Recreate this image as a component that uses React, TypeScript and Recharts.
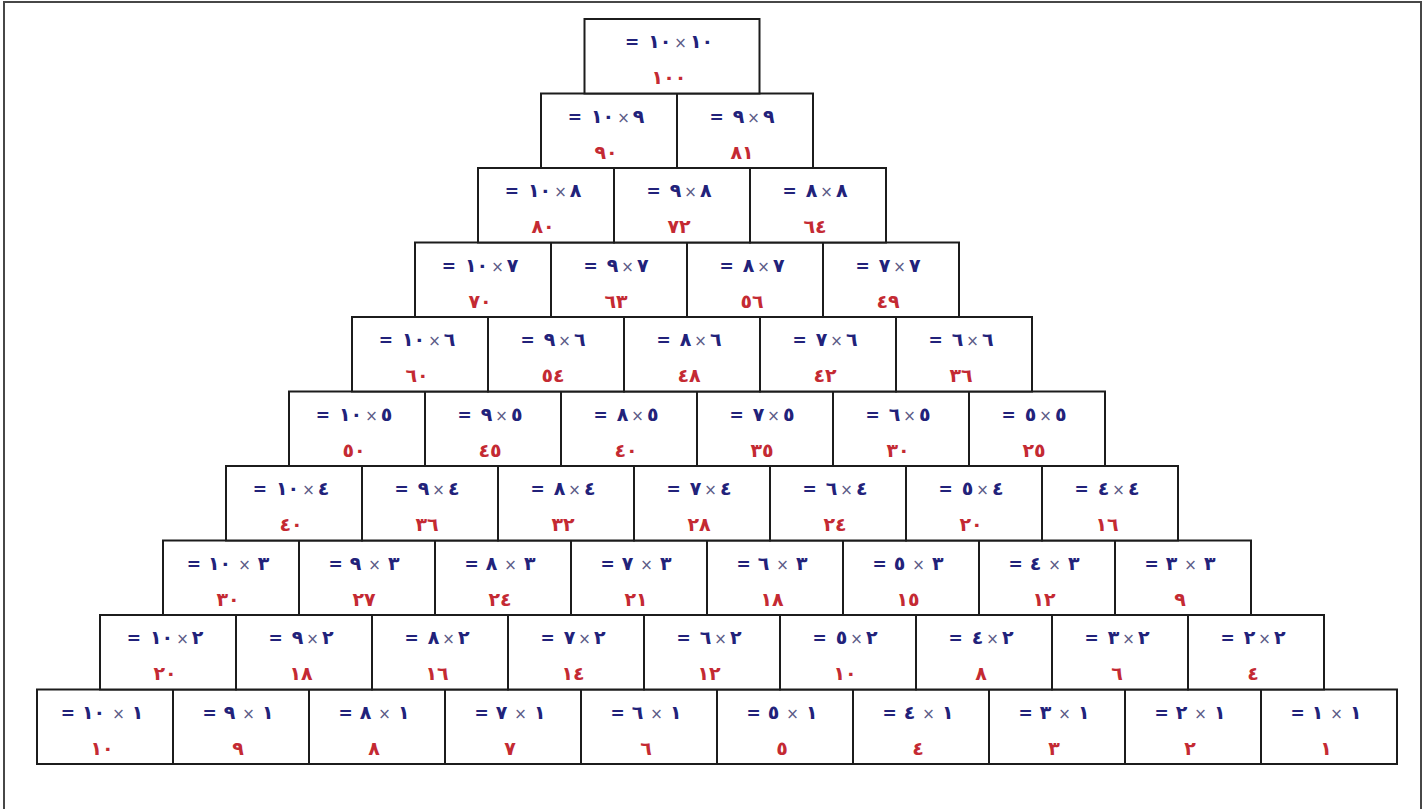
import * as React from "react";
import { ScatterChart, Scatter, XAxis, YAxis } from "recharts";

// multipliers across a row (left to right) and the row factor (bottom to top)
const multipliers = [10, 9, 8, 7, 6, 5, 4, 3, 2, 1];
const rowFactors = [1, 2, 3, 4, 5, 6, 7, 8, 9, 10];

// products as printed in the red line of each box, one list per row
const row1 = [10, 9, 8, 7, 6, 5, 4, 3, 2, 1];
const row2 = [20, 18, 16, 14, 12, 10, 8, 6, 4];
const row3 = [30, 27, 24, 21, 18, 15, 12, 9];
const row4 = [40, 36, 32, 28, 24, 20, 16];
const row5 = [50, 45, 40, 35, 30, 25];
const row6 = [60, 54, 48, 42, 36];
const row7 = [70, 63, 56, 49];
const row8 = [80, 72, 64];
const row9 = [90, 81];
const row10 = [100];
const productRows = [row1, row2, row3, row4, row5, row6, row7, row8, row9, row10];

// rows whose label is written with spaces around the ×
const wideRows = [1, 3];

const W = 1426;
const H = 809;
const MARGIN = { top: 19, right: 29, bottom: 45, left: 37 };
const COL_W = (W - MARGIN.left - MARGIN.right) / 10;
const ROW_H = (H - MARGIN.top - MARGIN.bottom) / 10;
const APEX_W = 175;
const DRIFT = -5 / COL_W; // the pyramid leans a little to the left going up

const AR = "٠١٢٣٤٥٦٧٨٩";
const ar = (n: number) =>
  String(n)
    .split("")
    .map((d) => AR[Number(d)])
    .join("");

const cells = rowFactors.flatMap((b, ri) =>
  productRows[ri].map((p, i) => {
    const a = multipliers[i];
    return {
      a,
      b,
      p,
      single: productRows[ri].length === 1,
      x: i + (b - 1) / 2 + DRIFT * (b - 1),
      y: b,
    };
  })
);

const BLUE = "#22227a";
const RED = "#c42a33";
const FONT = "'DejaVu Sans', sans-serif";
const LTR = { direction: "ltr", unicodeBidi: "bidi-override" } as any;

const Box = (props: any) => {
  const { cx, cy, payload } = props;
  const w = payload.single ? APEX_W : COL_W;
  const wide = wideRows.includes(payload.b);
  return (
    <g>
      <rect
        x={cx - w / 2}
        y={cy - ROW_H / 2}
        width={w}
        height={ROW_H}
        fill="#fff"
        stroke="#1c1c1c"
        strokeWidth={2}
      />
      <text
        x={cx - 3}
        y={cy - 8}
        textAnchor="middle"
        fontFamily={FONT}
        fontSize={19}
        fontWeight="bold"
        style={LTR}
      >
        <tspan fill={BLUE} fontSize={17}>=</tspan>
        <tspan fill={BLUE} dx={wide ? 7 : 9} letterSpacing={2}>
          {ar(payload.a)}
        </tspan>
        <tspan fill="#5a5a86" fontWeight="normal" fontSize={15} dx={wide ? 7 : 3}>
          ×
        </tspan>
        <tspan fill={BLUE} dx={wide ? 7 : 3}>
          {ar(payload.b)}
        </tspan>
      </text>
      <text
        x={cx - 3}
        y={cy + 28}
        textAnchor="middle"
        fontFamily={FONT}
        fontSize={19}
        fontWeight="bold"
        fill={RED}
        letterSpacing={4}
        style={LTR}
      >
        {ar(payload.p)}
      </text>
    </g>
  );
};

export default function App() {
  return (
    <div
      style={{
        position: "absolute",
        left: 0,
        top: 0,
        width: W,
        height: H,
        overflow: "hidden",
        background: "#fff",
      }}
    >
      <div
        style={{
          position: "absolute",
          left: 3,
          top: 1,
          width: 1415,
          height: 830,
          border: "2px solid #474747",
        }}
      />
      <ScatterChart width={W} height={H} margin={MARGIN}>
        <XAxis type="number" dataKey="x" domain={[-0.5, 9.5]} hide />
        <YAxis type="number" dataKey="y" domain={[0.5, 10.5]} hide />
        <Scatter data={cells} shape={<Box />} isAnimationActive={false} />
      </ScatterChart>
    </div>
  );
}
